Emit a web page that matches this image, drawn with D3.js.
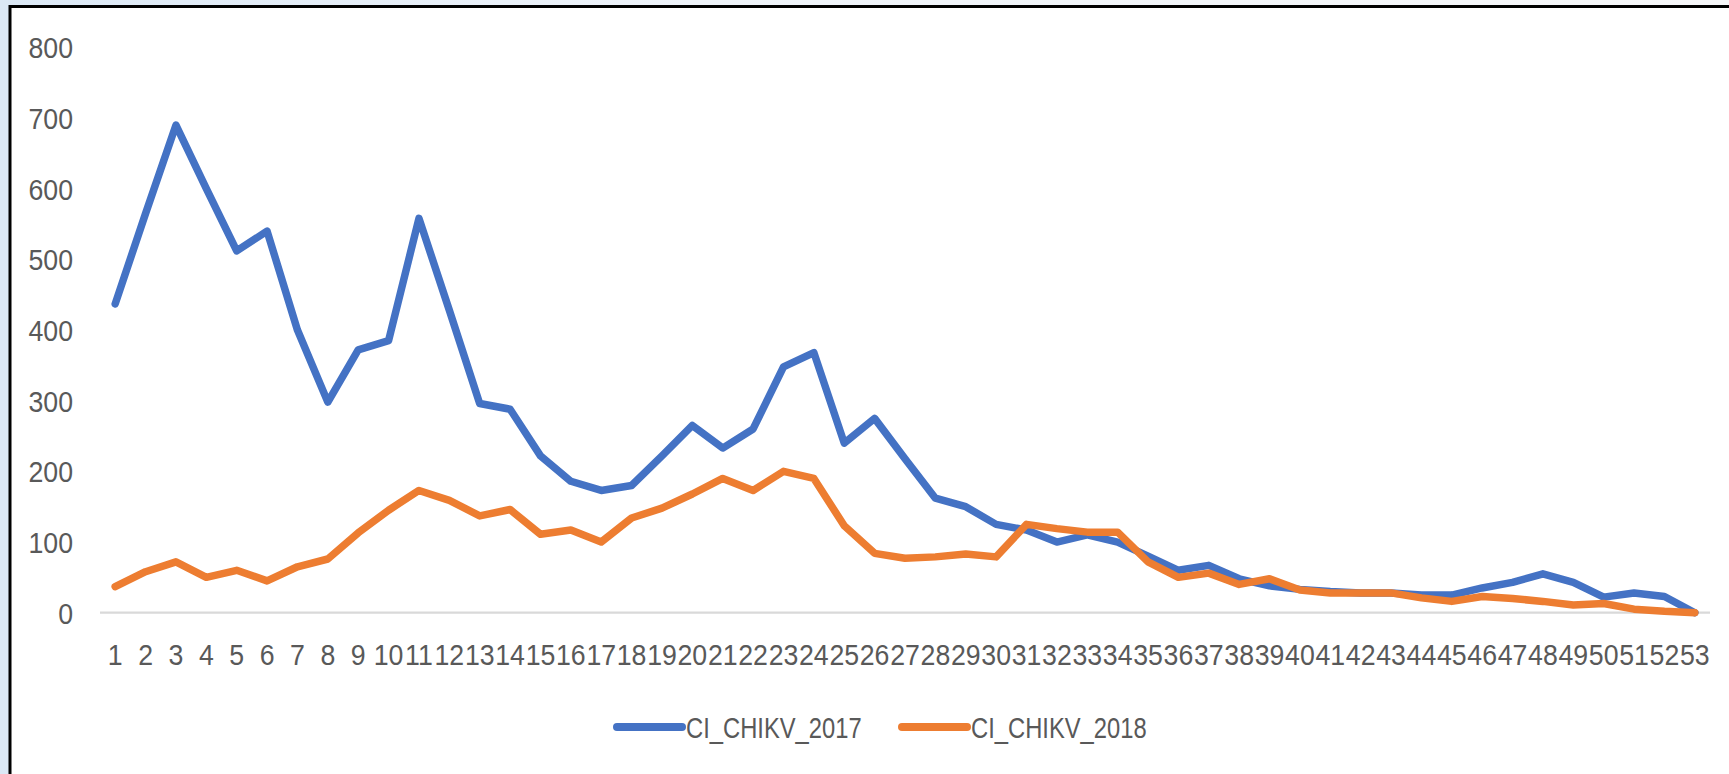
<!DOCTYPE html>
<html>
<head>
<meta charset="utf-8">
<script src="https://cdn.jsdelivr.net/npm/d3@7"></script>
<style>
  html, body { margin: 0; padding: 0; background: #fff; }
  svg { display: block; }
  text { font-family: "Liberation Sans", Arial, sans-serif; fill: #595959; }
</style>
</head>
<body>
<svg id="chart" width="1729" height="774"></svg>
<script>
const weeks = d3.range(1, 54).map(String);
const ci2017 = [437, 565, 690, 600, 512, 540, 400, 298, 372, 385,
                558, 428, 296, 288, 222, 186, 173, 180, 222, 265,
                233, 260, 348, 368, 240, 275, 218, 162, 150, 125,
                117, 100, 110, 100, 80, 60, 67, 48, 38, 33,
                30, 28, 28, 25, 25, 35, 43, 55, 43, 22,
                28, 23, 0];
const ci2018 = [37, 58, 72, 50, 60, 45, 65, 76, 113, 145,
                173, 159, 137, 146, 111, 117, 100, 134, 148, 168,
                190, 173, 200, 190, 123, 84, 77, 79, 83, 79,
                125, 119, 114, 114, 72, 50, 56, 40, 48, 32,
                28, 28, 28, 21, 16, 23, 20, 16, 11, 13,
                5, 2, 0];
const yTicks = [0, 100, 200, 300, 400, 500, 600, 700, 800];
const seriesNames = ["CI_CHIKV_2017", "CI_CHIKV_2018"];
const seriesColors = ["#4472C4", "#ED7D31"];
const tickNarrow = 0.89;   // horizontal condensing to mimic the narrow chart font
const legendNarrow = 0.82;

const svg = d3.select("#chart");

// page backdrop outside the chart frame
const defs = svg.append("defs");
const grad = defs.append("linearGradient").attr("id", "bg").attr("x1", "0").attr("x2", "1").attr("y1", "0").attr("y2", "0");
grad.append("stop").attr("offset", "0").attr("stop-color", "#dbe8f5");
grad.append("stop").attr("offset", "0.4").attr("stop-color", "#eef3f9");
grad.append("stop").attr("offset", "1").attr("stop-color", "#f6f7f9");
svg.append("rect").attr("x", 0).attr("y", 0).attr("width", 1729).attr("height", 774).attr("fill", "url(#bg)");

// chart frame
svg.append("rect").attr("x", 10).attr("y", 6.5).attr("width", 1740).attr("height", 800)
  .attr("fill", "#fff").attr("stroke", "#000").attr("stroke-width", 3);

const x = d3.scaleBand().domain(weeks).range([100, 1710]).padding(0);
const y = d3.scaleLinear().domain([0, 800]).range([612.7, 47.4]);
const cx = d => x(d) + x.bandwidth() / 2;

// x axis baseline
svg.append("line").attr("x1", 100).attr("x2", 1710).attr("y1", y(0)).attr("y2", y(0))
  .attr("stroke", "#d9d9d9").attr("stroke-width", 2.2);

// y tick labels
svg.append("g").selectAll("text").data(yTicks).join("text")
  .attr("transform", d => `translate(73,${y(d) + 11}) scale(${tickNarrow},1)`)
  .attr("text-anchor", "end").attr("font-size", 30).text(d => d);

// x tick labels
svg.append("g").selectAll("text").data(weeks).join("text")
  .attr("transform", d => `translate(${cx(d)},665) scale(${tickNarrow},1)`)
  .attr("text-anchor", "middle").attr("font-size", 30).text(d => d);

// lines
const line = d3.line().x((d, i) => cx(weeks[i])).y(d => y(d));
[ci2017, ci2018].forEach((s, k) => {
  svg.append("path").datum(s).attr("d", line)
    .attr("fill", "none").attr("stroke", seriesColors[k]).attr("stroke-width", 7.5)
    .attr("stroke-linejoin", "round").attr("stroke-linecap", "round");
});

// legend
const legendX = [617, 902];
seriesNames.forEach((n, k) => {
  svg.append("line").attr("x1", legendX[k]).attr("x2", legendX[k] + 65)
    .attr("y1", 727).attr("y2", 727).attr("stroke", seriesColors[k])
    .attr("stroke-width", 8).attr("stroke-linecap", "round");
  svg.append("text").attr("transform", `translate(${legendX[k] + 69},738) scale(${legendNarrow},1)`)
    .attr("font-size", 29).text(n);
});
</script>
</body>
</html>
